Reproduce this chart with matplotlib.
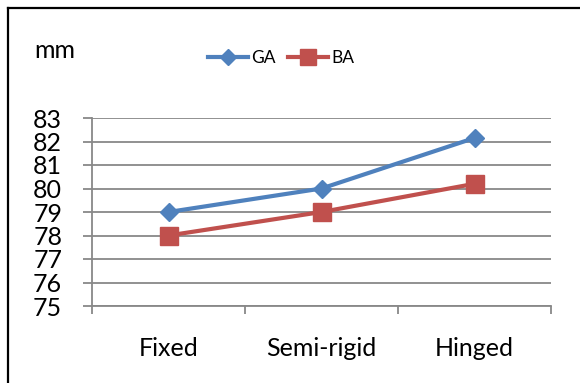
import matplotlib
matplotlib.use("Agg")
import matplotlib.pyplot as plt
from matplotlib.lines import Line2D

categories = ["Fixed", "Semi-rigid", "Hinged"]
ga = [79, 80, 82.15]
ba = [78, 79, 80.2]
y_ticks = [75, 76, 77, 78, 79, 80, 81, 82, 83]

BLUE = "#4F81BD"
RED = "#C0504D"
GRAY = "#888888"

plt.rcParams["font.family"] = ["Lato", "DejaVu Sans"]

fig = plt.figure(figsize=(5.8, 3.83), dpi=100)
ax = fig.add_axes([92 / 580, 1 - 306 / 383, (551 - 92) / 580, (306 - 118) / 383])

x = list(range(len(categories)))
ax.plot(x, ga, color=BLUE, lw=3, marker="D", ms=9.5, mfc=BLUE, mec=BLUE, label="GA", zorder=3)
ax.plot(x, ba, color=RED, lw=3, marker="s", ms=13.5, mfc=RED, mec=RED, label="BA", zorder=3)

ax.set_xlim(-0.5, len(categories) - 0.5)
ax.set_ylim(y_ticks[0], y_ticks[-1])
ax.set_yticks(y_ticks)
ax.yaxis.grid(True, color=GRAY, lw=1.3)
ax.set_axisbelow(True)

# category boundaries carry the tick marks, the labels sit on minor ticks
ax.set_xticks([i - 0.5 for i in range(len(categories) + 1)])
ax.set_xticklabels([])
ax.set_xticks(x, minor=True)
ax.set_xticklabels(categories, minor=True)
ax.tick_params(axis="x", which="major", length=6, width=1.3, color=GRAY, direction="out")
ax.tick_params(axis="x", which="minor", length=0, pad=22, labelsize=18)
ax.tick_params(axis="y", length=6.5, width=1.3, color=GRAY, pad=15, labelsize=18)

for side in ("top", "right"):
    ax.spines[side].set_visible(False)
for side in ("left", "bottom"):
    ax.spines[side].set_color(GRAY)
    ax.spines[side].set_linewidth(1.3)

fig.text(34 / 580, 1 - 50 / 383, "mm", fontsize=18, va="center", ha="left")

fig.legend(loc="center", bbox_to_anchor=(281 / 580, 1 - 58 / 383), ncol=2, frameon=False,
           fontsize=12.5, handlelength=2.3, columnspacing=0.7, handletextpad=0.2,
           markerscale=0.85)

# outer chart border
fig.add_artist(Line2D([8 / 580, 8 / 580], [0, 1 - 8 / 383], color="black", lw=1.6))
fig.add_artist(Line2D([8 / 580, 1], [1 - 8 / 383, 1 - 8 / 383], color="black", lw=1.6))

fig.savefig("out.png", dpi=100)
